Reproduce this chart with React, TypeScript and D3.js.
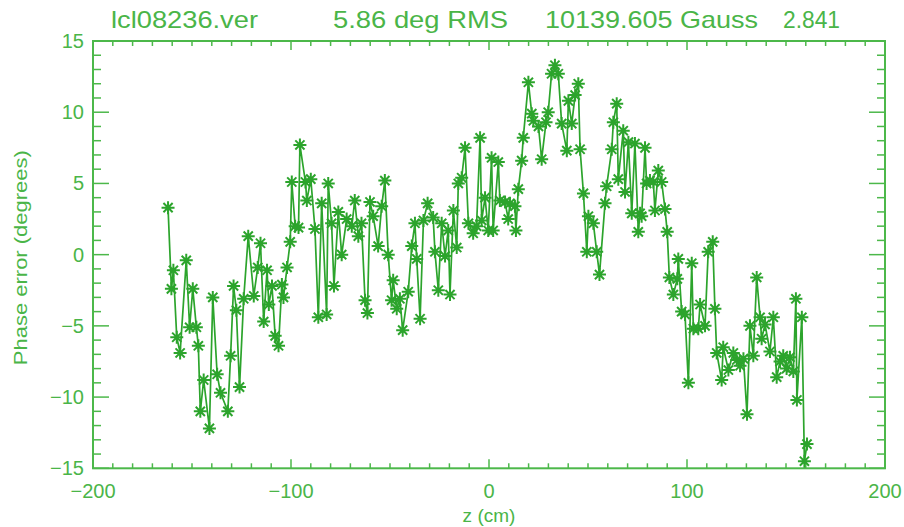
import React from "react";
import * as d3 from "d3";

// Longitudinal position along the device (cm)
const zPositions: number[] = [
  -162.1, -160.4, -159.4, -157.7, -156.0, -152.9, -151.2, -149.6, -147.8, -146.8,
  -145.8, -144.1, -141.2, -139.5, -137.3, -135.6, -131.9, -130.5, -129.0, -127.6,
  -126.0, -123.9, -121.6, -118.8, -116.8, -115.4, -113.8, -112.1, -111.2, -109.6,
  -108.0, -106.3, -104.6, -103.8, -102.0, -100.4, -99.6, -97.9, -96.2, -95.5,
  -92.7, -92.0, -90.0, -87.9, -86.2, -84.5, -82.0, -81.2, -79.5, -78.3,
  -76.1, -74.4, -71.9, -69.3, -67.8, -66.0, -64.4, -62.6, -61.4, -60.1,
  -58.5, -56.0, -54.2, -52.6, -50.9, -49.2, -48.4, -46.6, -45.0, -43.6,
  -40.8, -39.0, -37.4, -36.5, -34.8, -33.1, -31.0, -28.2, -27.3, -25.6,
  -23.9, -22.2, -20.6, -19.7, -18.0, -16.3, -15.5, -13.8, -12.1, -10.4,
  -8.0, -6.3, -4.5, -3.7, -2.0, -0.4, 1.3, 2.1, 4.7, 5.5,
  8.1, 9.7, 10.6, 13.1, 13.6, 14.8, 16.5, 17.3, 19.9, 21.6,
  22.4, 25.0, 26.6, 28.8, 29.9, 31.6, 33.3, 35.0, 36.7, 39.3,
  40.1, 41.8, 43.5, 45.1, 46.0, 47.7, 49.4, 50.2, 52.7, 54.4,
  55.8, 58.6, 59.4, 62.0, 62.8, 64.5, 65.3, 67.8, 68.7, 70.4,
  72.1, 73.7, 75.4, 76.3, 77.1, 78.8, 79.6, 81.3, 83.0, 83.8,
  85.5, 87.2, 88.9, 90.0, 91.1, 93.1, 95.1, 95.6, 97.3, 99.0,
  100.7, 102.4, 103.2, 105.7, 106.6, 109.1, 110.7, 113.0, 114.1, 115.0,
  117.5, 118.3, 120.9, 123.4, 125.1, 126.8, 128.5, 130.3, 131.8, 133.5,
  135.2, 136.9, 137.7, 139.4, 141.9, 143.6, 145.3, 147.0, 148.6, 150.3,
  152.0, 153.7, 155.0, 155.5, 158.0, 159.3, 160.6,
];

// Phase error at each position (degrees)
const phaseError: number[] = [
  3.3, -2.4, -1.1, -5.8, -6.9, -0.4, -5.1, -2.4, -5.1, -6.4,
  -11.0, -8.8, -12.2, -3.0, -8.4, -9.7, -11.0, -7.1, -2.2, -3.9,
  -9.3, -3.1, 1.3, -2.9, -0.9, 0.8, -4.7, -1.1, -3.5, -2.2,
  -5.7, -6.4, -2.1, -3.0, -0.9, 0.9, 5.1, 2.0, 1.9, 7.7,
  5.1, 3.8, 5.3, 1.8, -4.4, 3.6, -4.2, 5.0, 2.2, -2.2,
  3.0, 0.0, 2.5, 2.0, 3.8, 1.3, 2.2, -3.2, -4.1, 3.7,
  2.7, 0.6, 3.4, 5.2, 0.0, -3.2, -1.8, -3.8, -3.1, -5.3,
  -2.6, 0.6, 2.2, -0.3, -4.5, 2.4, 3.6, 2.6, 0.2, -2.5,
  2.2, -0.1, 1.7, -2.8, 3.1, 0.5, 5.0, 5.4, 7.5, 2.2,
  1.5, 2.0, 8.2, 2.4, 4.0, 1.7, 6.8, 1.7, 6.5, 3.8,
  3.7, 2.5, 3.6, 3.4, 1.7, 4.6, 6.6, 8.2, 12.1, 9.9,
  9.4, 9.0, 6.7, 9.3, 10.0, 12.7, 13.3, 12.7, 9.2, 7.3,
  10.8, 9.2, 11.2, 12.0, 7.4, 4.3, 0.2, 2.7, 2.2, 0.2,
  -1.4, 3.6, 4.8, 7.4, 9.3, 10.6, 5.3, 8.7, 4.4, 7.9,
  2.9, 7.8, 1.6, 2.9, 2.7, 7.5, 5.0, 5.2, 5.1, 3.1,
  5.9, 5.1, 3.2, 1.6, -1.6, -2.8, -1.7, -0.3, -4.0, -4.2,
  -9.0, -0.6, -5.2, -5.2, -3.5, -5.0, 0.2, 0.9, -3.8, -6.9,
  -8.8, -6.5, -8.1, -6.9, -7.4, -7.8, -7.3, -11.2, -5.0, -7.1,
  -1.6, -4.4, -5.9, -4.9, -6.8, -4.4, -8.6, -7.5, -7.1, -8.0,
  -7.2, -8.2, -3.1, -10.2, -4.4, -14.5, -13.3,
];

const xTickValues: number[] = [-200, -100, 0, 100, 200];
const yTickValues: number[] = [-15, -10, -5, 0, 5, 10, 15];

const titleParts: string[] = ["lcl08236.ver", "5.86 deg RMS", "10139.605 Gauss", "2.841"];
const xTitle = "z (cm)";
const yTitle = "Phase error (degrees)";

const W = 904;
const H = 527;
const axisColor = "#4cb84a";
const textColor = "#4ab548";
const dataColor = "#2ca42c";
const font = "'Liberation Sans', Arial, Helvetica, sans-serif";

export default function App() {
  const x = d3.scaleLinear().domain([-200, 200]).range([93, 885]);
  const y = d3.scaleLinear().domain([-15, 15]).range([468.3, 41]);

  const points = zPositions.map((z, i) => ({ z, v: phaseError[i] }));
  const line = d3
    .line<{ z: number; v: number }>()
    .x((d) => x(d.z))
    .y((d) => y(d.v));

  const [x0, x1] = x.range();
  const [y0, y1] = y.range();

  const xMinor = d3.range(-200, 201, 10);
  const yMinor = d3.range(-15, 16, 1);

  // asterisk symbol: four crossing strokes
  const r = 6.5;
  const star = [0, 45, 90, 135]
    .map((a) => {
      const rad = (a * Math.PI) / 180;
      const dx = r * Math.cos(rad);
      const dy = r * Math.sin(rad);
      return `M${-dx},${-dy}L${dx},${dy}`;
    })
    .join("");

  const titleX = [111, 333, 545, 783];
  const titleW = [147, 175, 213, 57];

  return (
    <svg
      width={W}
      height={H}
      style={{ position: "fixed", left: 0, top: 0, background: "#fff" }}
      fontFamily={font}
    >
      <rect x={0} y={0} width={W} height={H} fill="#fff" />

      {/* title line */}
      {titleParts.map((t, i) => (
        <text
          key={t}
          x={titleX[i]}
          y={28}
          fontSize={24}
          fill={textColor}
          textLength={titleW[i]}
          lengthAdjust="spacingAndGlyphs"
        >
          {t}
        </text>
      ))}

      {/* ticks, x */}
      {xMinor.map((v) => {
        const major = v % 100 === 0;
        const len = major ? 9 : 5;
        return (
          <g key={"xm" + v} stroke={axisColor} strokeWidth={1.5}>
            <line x1={x(v)} x2={x(v)} y1={y0} y2={y0 - len} />
            <line x1={x(v)} x2={x(v)} y1={y1} y2={y1 + len} />
          </g>
        );
      })}
      {/* ticks, y */}
      {yMinor.map((v) => {
        const major = v % 5 === 0;
        const len = major ? 16 : 8;
        return (
          <g key={"ym" + v} stroke={axisColor} strokeWidth={1.5}>
            <line x1={x0} x2={x0 + len} y1={y(v)} y2={y(v)} />
            <line x1={x1} x2={x1 - len} y1={y(v)} y2={y(v)} />
          </g>
        );
      })}

      {/* frame */}
      <rect
        x={x0}
        y={y1}
        width={x1 - x0}
        height={y0 - y1}
        fill="none"
        stroke={axisColor}
        strokeWidth={2}
      />

      {/* tick labels */}
      {xTickValues.map((v) => (
        <text
          key={"xl" + v}
          x={x(v)}
          y={498}
          fontSize={20}
          textAnchor="middle"
          fill={textColor}
        >
          {v < 0 ? "\u2212" + Math.abs(v) : String(v)}
        </text>
      ))}
      {yTickValues.map((v) => (
        <text
          key={"yl" + v}
          x={84}
          y={y(v) + 7}
          fontSize={20}
          textAnchor="end"
          fill={textColor}
        >
          {v < 0 ? "\u2212" + Math.abs(v) : String(v)}
        </text>
      ))}

      {/* axis titles */}
      <text
        x={(x0 + x1) / 2}
        y={522}
        fontSize={19}
        textAnchor="middle"
        fill={textColor}
      >
        {xTitle}
      </text>
      <text
        transform={`translate(27, ${(y0 + y1) / 2 + 3}) rotate(-90)`}
        fontSize={18}
        textAnchor="middle"
        fill={textColor}
        textLength={215}
        lengthAdjust="spacingAndGlyphs"
      >
        {yTitle}
      </text>

      {/* data trace */}
      <path
        d={line(points) || ""}
        fill="none"
        stroke={dataColor}
        strokeWidth={1.7}
        strokeLinejoin="round"
      />
      {points.map((p, i) => (
        <path
          key={"s" + i}
          d={star}
          transform={`translate(${x(p.z)},${y(p.v)})`}
          stroke={dataColor}
          strokeWidth={2}
          fill="none"
        />
      ))}
    </svg>
  );
}
